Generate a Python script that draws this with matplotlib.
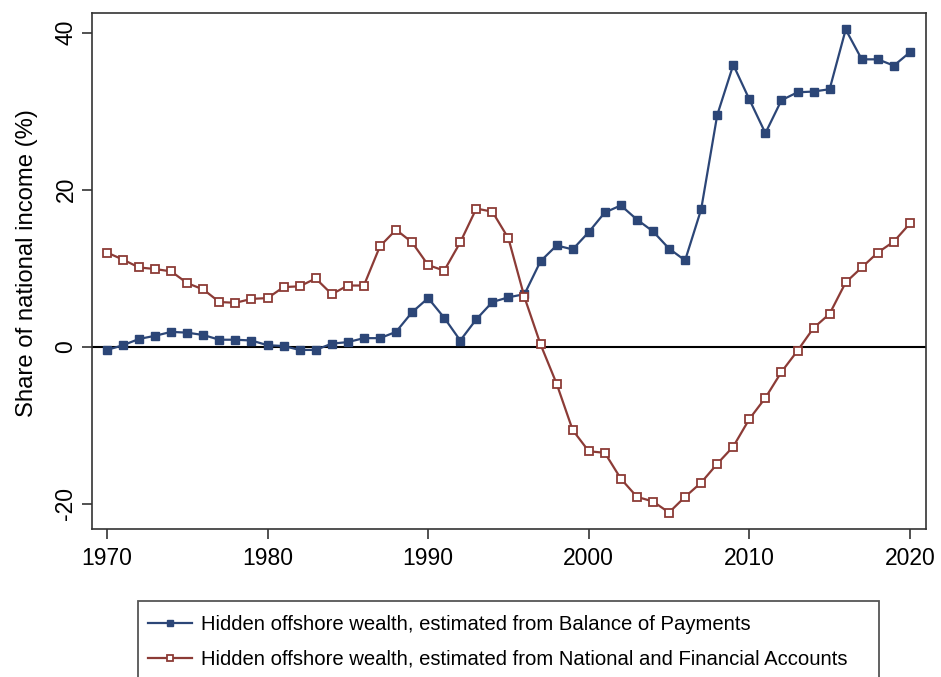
import matplotlib
matplotlib.use("Agg")
import matplotlib.pyplot as plt
from matplotlib.patches import Rectangle

years = list(range(1970, 2021))
bop = [-0.4, 0.2, 1.0, 1.4, 1.9, 1.8, 1.5, 0.9, 0.9, 0.8,
       0.2, 0.1, -0.4, -0.4, 0.4, 0.6, 1.1, 1.1, 1.9, 4.4,
       6.2, 3.7, 0.8, 3.5, 5.7, 6.3, 6.7, 10.9, 12.9, 12.4,
       14.6, 17.1, 18.0, 16.2, 14.7, 12.5, 11.0, 17.5, 29.5, 35.9,
       31.5, 27.2, 31.4, 32.4, 32.5, 32.8, 40.4, 36.6, 36.6, 35.8,
       37.5]
nfa = [12.0, 11.1, 10.1, 9.9, 9.6, 8.1, 7.3, 5.7, 5.6, 6.1,
       6.2, 7.6, 7.7, 8.7, 6.7, 7.8, 7.8, 12.8, 14.9, 13.3,
       10.4, 9.7, 13.3, 17.6, 17.2, 13.8, 6.3, 0.3, -4.7, -10.6,
       -13.3, -13.5, -16.8, -19.1, -19.7, -21.1, -19.1, -17.3, -14.9, -12.7,
       -9.2, -6.5, -3.2, -0.5, 2.4, 4.2, 8.2, 10.1, 12.0, 13.4,
       15.7]
labels = ["Hidden offshore wealth, estimated from Balance of Payments",
          "Hidden offshore wealth, estimated from National and Financial Accounts"]
xticks = [1970, 1980, 1990, 2000, 2010, 2020]
yticks = [-20, 0, 20, 40]
ylabel = "Share of national income (%)"

plt.rcParams['font.family'] = ['Liberation Sans', 'DejaVu Sans']
plt.rcParams['axes.unicode_minus'] = False

blue = '#2c4677'
red = '#8c3b36'
W, H = 941, 677

fig = plt.figure(figsize=(W/100, H/100), dpi=100)
ax = fig.add_axes([92/W, 1-529/H, (926-92)/W, (529-13)/H])

ax.axhline(0, color='black', lw=1.5, zorder=1)
l1, = ax.plot(years, bop, color=blue, lw=1.6, marker='s', ms=5.5,
              mfc=blue, mec=blue, zorder=3)
l2, = ax.plot(years, nfa, color=red, lw=1.6, marker='s', ms=5.5,
              mfc='white', mec=red, mew=1.3, zorder=3)

ax.set_xlim(1969.07, 2021.0)
ax.set_ylim(-23.2, 42.5)
ax.set_xticks(xticks)
ax.set_yticks(yticks)
ax.tick_params(axis='both', labelsize=16.5, length=7, width=1.2, color='#333333')
ax.tick_params(axis='x', pad=6)
for lab in ax.get_yticklabels():
    lab.set_rotation(90)
    lab.set_va('center')
ax.set_ylabel(ylabel, fontsize=17.2)
ax.yaxis.set_label_coords(-0.065, 0.5145)
for s in ax.spines.values():
    s.set_color('#333333')
    s.set_linewidth(1.2)

# legend box (figure pixel coordinates)
fig.patches.append(Rectangle((138/W, 1-700/H), (879-138)/W, (700-601)/H,
                             transform=fig.transFigure, fill=False,
                             edgecolor='#555555', lw=1.3))
leg = fig.legend([l1, l2], labels, loc='upper left',
                 bbox_to_anchor=(144/W, 1-611/H), fontsize=14.6,
                 frameon=False, borderaxespad=0,
                 handlelength=2.15, handletextpad=0.45, labelspacing=0.78,
                 borderpad=0.2, markerscale=0.75)

fig.savefig('out.png', dpi=100)
